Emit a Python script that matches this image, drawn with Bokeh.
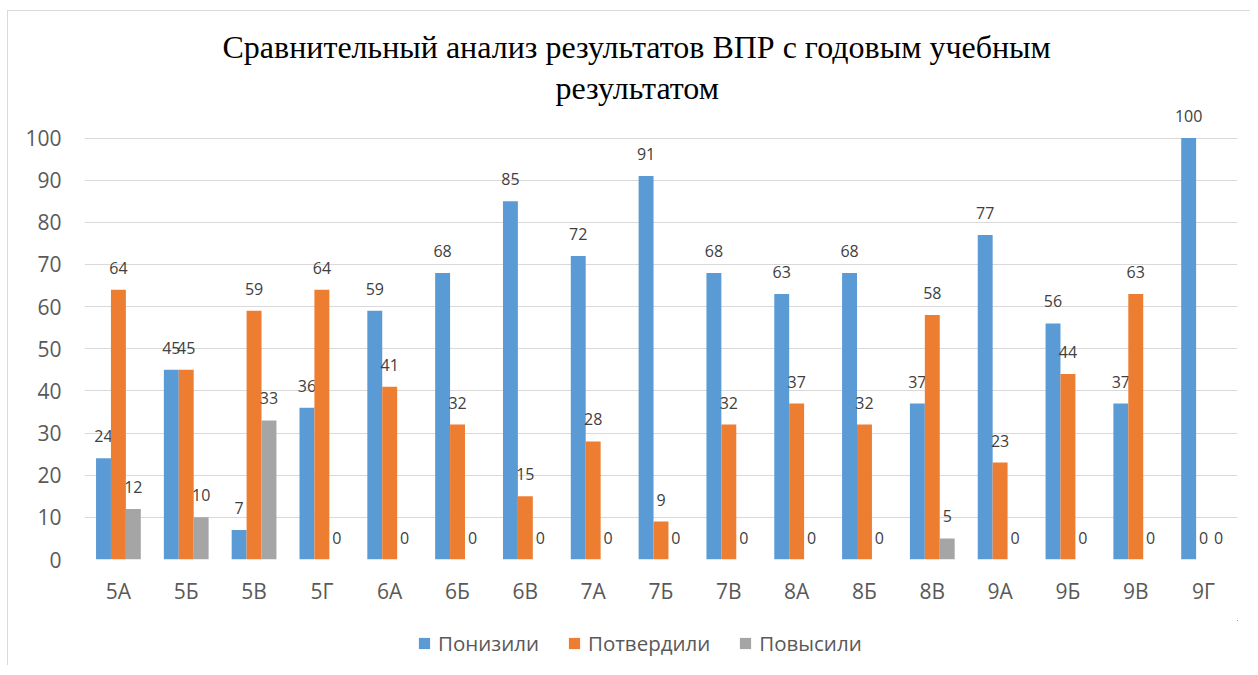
from bokeh.plotting import figure
from bokeh.layouts import column
from bokeh.models import ColumnDataSource, FactorRange, Range1d, Legend, Title, SingleIntervalTicker
from bokeh.transform import dodge
from bokeh.core.properties import value
from bokeh.embed import file_html
from bokeh.resources import INLINE

categories = ["5А", "5Б", "5В", "5Г", "6А", "6Б", "6В", "7А", "7Б", "7В", "8А", "8Б", "8В", "9А", "9Б", "9В", "9Г"]
lowered = [24, 45, 7, 36, 59, 68, 85, 72, 91, 68, 63, 68, 37, 77, 56, 37, 100]
confirmed = [64, 45, 59, 64, 41, 32, 15, 28, 9, 32, 37, 32, 58, 23, 44, 63, 0]
raised = [12, 10, 33, 0, 0, 0, 0, 0, 0, 0, 0, 0, 5, 0, 0, 0, 0]
series_names = ["Понизили", "Потвердили", "Повысили"]
colors = ["#5B9BD5", "#ED7D31", "#A5A5A5"]
title_lines = ["Сравнительный анализ результатов ВПР с годовым учебным", "результатом"]
title_offsets = [138, 471]

source = ColumnDataSource(dict(
    cat=categories,
    lowered=lowered, confirmed=confirmed, raised=raised,
    lowered_t=[str(v) for v in lowered],
    confirmed_t=[str(v) for v in confirmed],
    raised_t=[str(v) for v in raised],
))

FONT = "Open Sans"
BORDER = "1px solid #D9D9D9"
p = figure(frame_width=1153, frame_height=451, x_range=FactorRange(*categories), y_range=Range1d(0, 107),
           output_backend="svg", toolbar_location=None, title=None,
           min_border_left=76, min_border_right=13, min_border_top=97, min_border_bottom=61)

for i, (line, off) in enumerate(reversed(list(zip(title_lines, title_offsets)))):
    p.add_layout(Title(text=line, align="left", text_font="Liberation Serif", text_font_size="32px",
                       text_font_style="normal", text_color="#000000",
                       standoff=(6 if i == 0 else 0), offset=off), "above")

offsets = [-0.22, 0.0, 0.22]
keys = ["lowered", "confirmed", "raised"]
for key, off, col in zip(keys, offsets, colors):
    p.vbar(x=dodge("cat", off, range=p.x_range), top=key, width=0.22, source=source,
           fill_color=col, line_color=None)
    p.text(x=dodge("cat", off, range=p.x_range), y=key, text=key + "_t", source=source,
           text_align="center", text_baseline="middle", y_offset=-22,
           text_font=value(FONT), text_font_size="16px", text_color="#404040")

p.yaxis.ticker = SingleIntervalTicker(interval=10)
p.ygrid.grid_line_color = "#D9D9D9"
p.ygrid.grid_line_width = 1
p.xgrid.grid_line_color = None
p.outline_line_color = None
for ax in (p.xaxis, p.yaxis):
    ax.axis_line_color = None
    ax.major_tick_line_color = None
    ax.minor_tick_line_color = None
    ax.major_label_text_font = FONT
    ax.major_label_text_font_size = "21px"
    ax.major_label_text_color = "#595959"
p.yaxis.major_label_standoff = 17
p.xaxis.major_label_standoff = 11

# legend strip below the chart (its bars sit outside the visible ranges)
q = figure(width=1242, height=45, output_backend="svg", toolbar_location=None,
           x_axis_type=None, y_axis_type=None, min_border=0,
           x_range=Range1d(-3, -2), y_range=Range1d(-3, -2))
q.outline_line_color = None
q.xgrid.visible = False
q.ygrid.visible = False
items = []
for key, col, name in zip(keys, colors, series_names):
    r = q.vbar(x=key, top=key, width=0.1, source=source, fill_color=col, line_color=None)
    items.append((name, [r]))
legend = Legend(items=items, orientation="horizontal", location=(333, 8),
                label_text_font=FONT, label_text_font_size="20.5px", label_text_color="#595959",
                glyph_width=14, glyph_height=14, label_standoff=7, spacing=28,
                border_line_color=None, background_fill_alpha=0, margin=0, padding=4)
q.add_layout(legend, "center")

layout = column(p, q, spacing=0)
layout.margin = (10, 0, 0, 7)
layout.styles = {"border-left": BORDER, "border-top": BORDER}
open("out.html", "w").write(file_html(layout, INLINE))
